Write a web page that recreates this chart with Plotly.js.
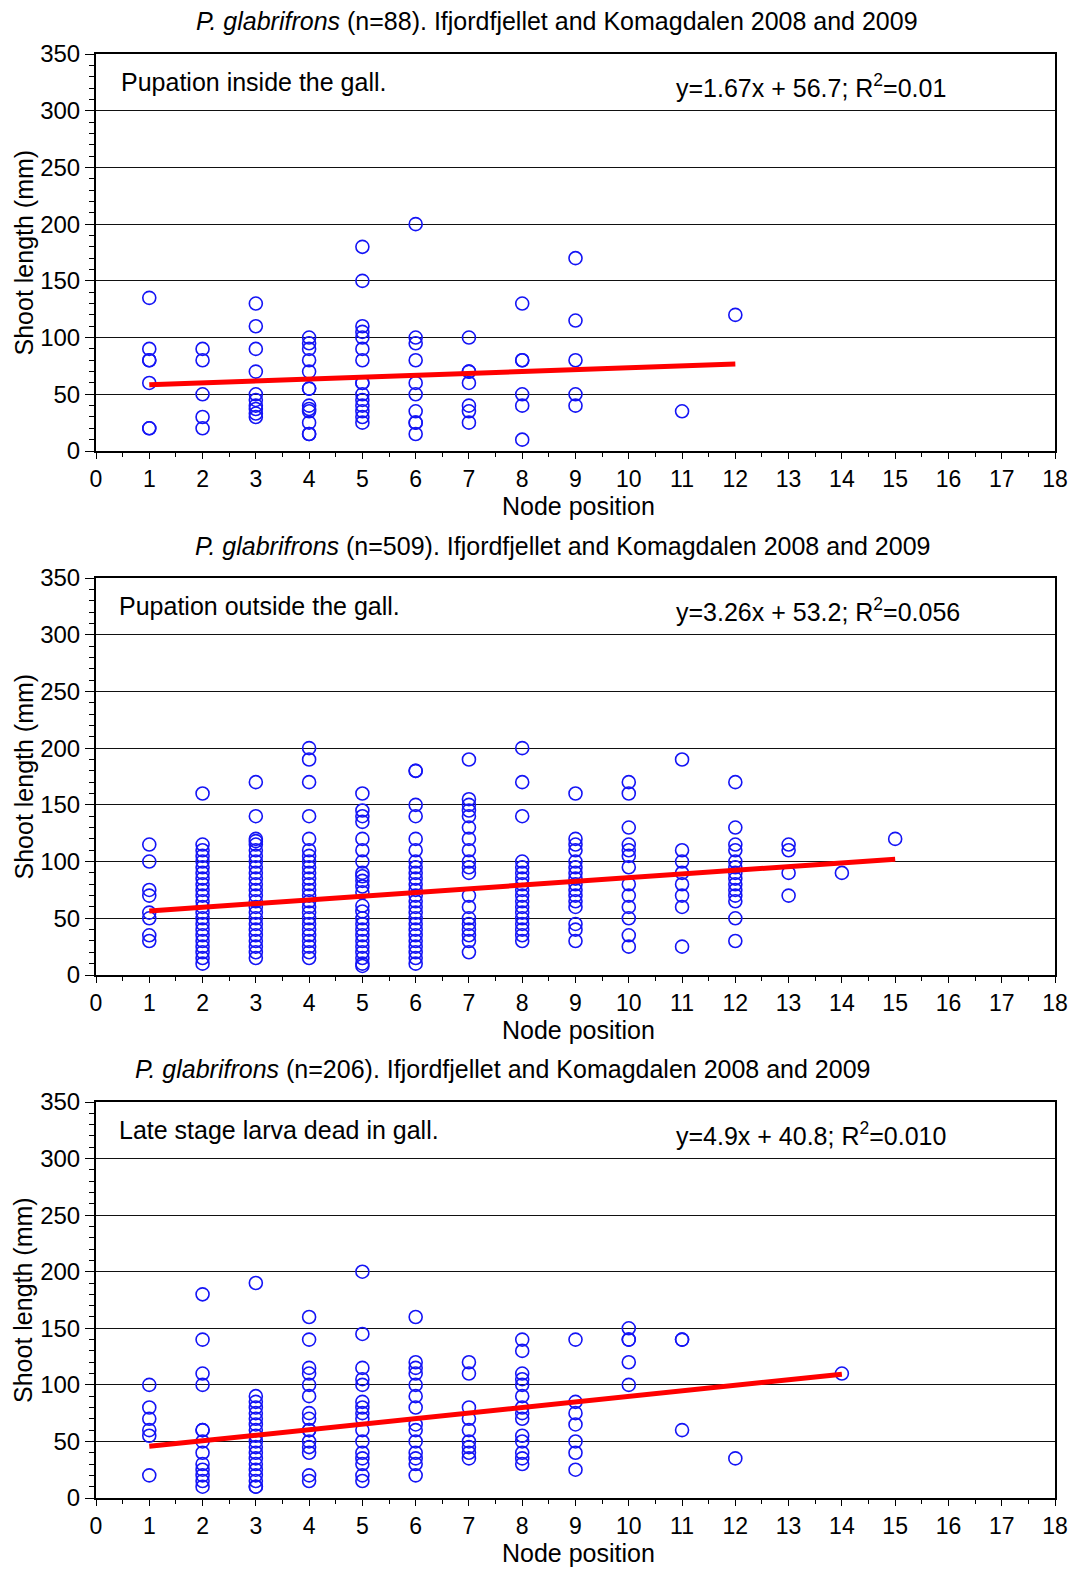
<!DOCTYPE html>
<html>
<head>
<meta charset="utf-8">
<script src="https://cdn.plot.ly/plotly-3.0.1.min.js"></script>
<style>html,body{margin:0;padding:0;background:#fff;}#chart{width:1074px;height:1569px;}</style>
</head>
<body>
<div id="chart"></div>
<script>
// ---------- DATA ----------
const xTicks = [0,1,2,3,4,5,6,7,8,9,10,11,12,13,14,15,16,17,18];

// Panel 1: pupation inside the gall (n=88)
const insideNode = [
  1,1,1,1,1,1,1,
  2,2,2,2,2,
  3,3,3,3,3,3,3,3,3,3,
  4,4,4,4,4,4,4,4,4,4,4,4,4,
  5,5,5,5,5,5,5,5,5,5,5,5,5,5,5,
  6,6,6,6,6,6,6,6,6,6,
  7,7,7,7,7,7,7,
  8,8,8,8,8,8,
  9,9,9,9,9,
  11,
  12
];
const insideLength = [
  135,90,80,80,60,20,20,
  90,80,50,30,20,
  130,110,90,70,50,45,40,37,33,30,
  100,95,90,80,70,55,55,40,37,35,25,15,15,
  180,150,110,105,100,90,80,60,60,50,45,40,35,30,25,
  200,100,95,80,60,50,35,25,25,15,
  100,70,70,60,40,35,25,
  130,80,80,50,40,10,
  170,115,80,50,40,
  35,
  120
];
const insideFitX = [1, 12];
const insideFitY = [58.4, 76.7];

// Panel 2: pupation outside the gall (n=509)
const outsideNode = [
  1,1,1,1,1,1,1,1,
  2,2,2,2,2,2,2,2,2,2,2,2,2,2,2,2,2,2,2,2,2,2,2,
  3,3,3,3,3,3,3,3,3,3,3,3,3,3,3,3,3,3,3,3,3,3,3,3,3,
  4,4,4,4,4,4,4,4,4,4,4,4,4,4,4,4,4,4,4,4,4,4,4,4,4,
  5,5,5,5,5,5,5,5,5,5,5,5,5,5,5,5,5,5,5,5,5,5,5,5,
  6,6,6,6,6,6,6,6,6,6,6,6,6,6,6,6,6,6,6,6,6,6,6,6,6,
  7,7,7,7,7,7,7,7,7,7,7,7,7,7,7,7,7,7,7,
  8,8,8,8,8,8,8,8,8,8,8,8,8,8,8,8,8,8,
  9,9,9,9,9,9,9,9,9,9,9,9,9,9,9,9,
  10,10,10,10,10,10,10,10,10,10,10,10,10,
  11,11,11,11,11,11,11,11,
  12,12,12,12,12,12,12,12,12,12,12,12,12,12,
  13,13,13,13,
  14,
  15
];
const outsideLength = [
  115,100,75,70,55,50,35,30,
  160,115,110,105,100,95,90,85,80,75,70,65,60,55,50,45,40,35,30,25,20,15,10,
  170,140,120,118,115,110,105,100,95,90,85,80,75,70,65,60,55,50,45,40,35,30,25,20,15,
  200,190,170,140,120,110,105,100,95,90,85,80,75,70,65,60,55,50,45,40,35,30,25,20,15,
  160,145,140,135,120,110,100,90,87,83,78,73,61,56,50,45,40,35,30,25,20,15,10,8,
  180,180,150,140,120,110,100,95,90,85,80,75,70,65,60,55,50,45,40,35,30,25,20,15,10,
  190,155,150,145,140,130,120,110,100,95,90,70,60,50,45,40,35,30,20,
  200,170,140,100,95,90,85,80,75,70,65,60,55,50,45,40,35,30,
  160,120,115,110,100,95,90,85,80,75,70,65,60,45,40,30,
  170,160,130,115,110,105,95,80,70,60,50,35,25,
  190,110,100,90,80,70,60,25,
  170,130,115,110,100,95,90,85,80,75,70,65,50,30,
  115,110,90,70,
  90,
  120
];
const outsideFitX = [1, 15];
const outsideFitY = [56.5, 102.1];

// Panel 3: late stage larva dead in gall (n=206)
const deadNode = [
  1,1,1,1,1,1,
  2,2,2,2,2,2,2,2,2,2,2,2,2,
  3,3,3,3,3,3,3,3,3,3,3,3,3,3,3,3,3,3,3,
  4,4,4,4,4,4,4,4,4,4,4,4,4,4,4,
  5,5,5,5,5,5,5,5,5,5,5,5,5,5,5,5,
  6,6,6,6,6,6,6,6,6,6,6,6,6,6,
  7,7,7,7,7,7,7,7,7,
  8,8,8,8,8,8,8,8,8,8,8,8,8,8,
  9,9,9,9,9,9,9,
  10,10,10,10,10,
  11,11,11,
  12,
  14
];
const deadLength = [
  100,80,70,60,55,20,
  180,140,110,100,60,60,50,40,30,25,20,15,10,
  190,90,85,80,75,70,65,60,55,50,45,40,35,30,25,20,15,10,10,
  160,140,115,110,100,90,75,70,60,60,50,45,40,20,15,
  200,145,115,105,100,85,80,75,70,60,50,40,35,30,20,15,
  160,120,115,110,100,90,80,65,60,50,40,35,30,20,
  120,110,80,70,60,50,45,40,35,
  140,130,110,105,100,90,80,75,70,55,50,40,35,30,
  140,85,75,65,50,40,25,
  150,140,140,120,100,
  140,140,60,
  35,
  110
];
const deadFitX = [1, 14];
const deadFitY = [45.7, 109.4];

const panelTitles = [
  '<i>P. glabrifrons</i> (n=88). Ifjordfjellet and Komagdalen 2008 and 2009',
  '<i>P. glabrifrons</i> (n=509). Ifjordfjellet and Komagdalen 2008 and 2009',
  '<i>P. glabrifrons</i> (n=206). Ifjordfjellet and Komagdalen 2008 and 2009'
];
const panelLabels = ['Pupation inside the gall.', 'Pupation outside the gall.', 'Late stage larva dead in gall.'];
const panelEquations = [
  'y=1.67x + 56.7; R<sup>2</sup>=0.01',
  'y=3.26x + 53.2; R<sup>2</sup>=0.056',
  'y=4.9x + 40.8; R<sup>2</sup>=0.010'
];

// ---------- CHART ----------
const FONT = '"Liberation Sans", Arial, Helvetica, sans-serif';
const FS = 25;      // titles and labels
const TFS = 23;     // tick labels
const ptColor = '#1414f5';
const series = [
  [insideNode, insideLength, insideFitX, insideFitY],
  [outsideNode, outsideLength, outsideFitX, outsideFitY],
  [deadNode, deadLength, deadFitX, deadFitY]
];
const traces = [];
series.forEach((s, i) => {
  const xa = i === 0 ? 'x' : 'x' + (i + 1);
  const ya = i === 0 ? 'y' : 'y' + (i + 1);
  traces.push({
    type: 'scatter', mode: 'markers', x: s[0], y: s[1], xaxis: xa, yaxis: ya,
    marker: {symbol: 'circle-open', size: 13, color: ptColor, line: {width: 1.6, color: ptColor}},
    hoverinfo: 'x+y', showlegend: false
  });
  traces.push({
    type: 'scatter', mode: 'lines', x: s[2], y: s[3], xaxis: xa, yaxis: ya,
    line: {color: '#ff0000', width: 5}, showlegend: false, hoverinfo: 'skip'
  });
});

// plot area: x 96..1055 px; bottom of lowest panel at 1498, top at 54
const H = 1444;
const domains = [[1047 / H, 1], [523 / H, 920 / H], [0, 396 / H]];
const layout = {
  width: 1074, height: 1569,
  margin: {l: 96, r: 19, t: 54, b: 71},
  paper_bgcolor: '#fff', plot_bgcolor: '#fff',
  font: {family: FONT, size: FS, color: '#000'},
  showlegend: false,
  annotations: []
};
function py(pix) { return (1498 - pix) / H; }
function px(pix) { return (pix - 96) / 959; }
const titleY = [21, 546, 1069];
const titleX = [557, 562, 502];
const xTitleY = [506, 1030, 1553];
const yTitleY = [252.5, 776.5, 1300];
for (let i = 0; i < 3; i++) {
  const sfx = i === 0 ? '' : String(i + 1);
  layout['xaxis' + sfx] = {
    domain: [0, 1], anchor: 'y' + sfx, range: [0, 18],
    tickmode: 'array', tickvals: xTicks, ticktext: xTicks.map(String),
    ticks: 'outside', ticklen: 6, tickwidth: 1, tickcolor: '#000',
    minor: {dtick: 0.5, tick0: 0, ticks: 'outside', ticklen: 4, tickwidth: 1, tickcolor: '#000', showgrid: false},
    showline: true, linecolor: '#000', linewidth: 2, mirror: true,
    showgrid: false, zeroline: false,
    tickfont: {family: FONT, size: TFS, color: '#000'}
  };
  layout['yaxis' + sfx] = {
    domain: domains[i], anchor: 'x' + sfx, range: [0, 350],
    tick0: 0, dtick: 50,
    ticks: 'outside', ticklen: 9, tickwidth: 1, tickcolor: '#000',
    minor: {dtick: 10, tick0: 0, ticks: 'outside', ticklen: 5, tickwidth: 1, tickcolor: '#000', showgrid: false},
    showline: true, linecolor: '#000', linewidth: 2, mirror: true,
    showgrid: true, gridcolor: '#111', gridwidth: 1, zeroline: false,
    tickfont: {family: FONT, size: 24, color: '#000'}
  };
  layout.annotations.push({
    text: panelTitles[i], xref: 'paper', yref: 'paper', x: px(titleX[i]), y: py(titleY[i]),
    xanchor: 'center', yanchor: 'middle', showarrow: false, font: {family: FONT, size: FS, color: '#000'}
  });
  layout.annotations.push({
    text: 'Node position', xref: 'paper', yref: 'paper', x: px(578), y: py(xTitleY[i]),
    xanchor: 'center', yanchor: 'middle', showarrow: false, font: {family: FONT, size: FS, color: '#000'}
  });
  layout.annotations.push({
    text: 'Shoot length (mm)', xref: 'paper', yref: 'paper', x: px(23), y: py(yTitleY[i]),
    xanchor: 'center', yanchor: 'middle', textangle: -90, showarrow: false, font: {family: FONT, size: FS, color: '#000'}
  });
  layout.annotations.push({
    text: panelLabels[i], xref: 'x' + sfx + ' domain', yref: 'y' + sfx + ' domain',
    x: (i === 0 ? 23 : 21) / 959, y: 0.929,
    xanchor: 'left', yanchor: 'middle', showarrow: false, font: {family: FONT, size: FS, color: '#000'}
  });
  layout.annotations.push({
    text: panelEquations[i], xref: 'x' + sfx + ' domain', yref: 'y' + sfx + ' domain',
    x: 578 / 959, y: 0.92,
    xanchor: 'left', yanchor: 'middle', showarrow: false, font: {family: FONT, size: FS, color: '#000'}
  });
}
Plotly.newPlot('chart', traces, layout, {staticPlot: true, displayModeBar: false});
</script>
</body>
</html>
